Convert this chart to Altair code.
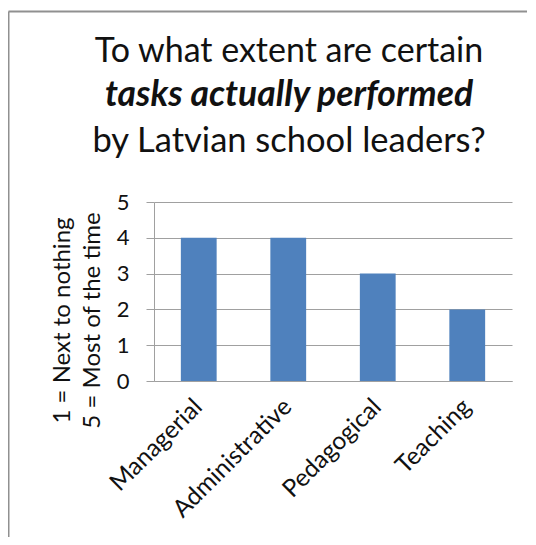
import altair as alt
import pandas as pd

categories = ["Managerial", "Administrative", "Pedagogical", "Teaching"]
values = [4, 4, 3, 2]
title_lines = ["To what extent are certain", "tasks actually performed", "by Latvian school leaders?"]
title_styles = ["normal", "italic", "normal"]
title_weights = ["normal", "bold", "normal"]
title_sizes = [34, 35.5, 34.5]
y_title = ["1 = Next to nothing", "5 = Most of the time"]
y_ticks = [0, 1, 2, 3, 4, 5]

FONT = "Lato"
GRAY = "#a0a0a0"

df = pd.DataFrame({"task": categories, "score": values})

bars = alt.Chart(df).mark_bar(color="#4f81bd").encode(
    x=alt.X("task:N", sort=categories,
            scale=alt.Scale(paddingInner=0.6, paddingOuter=0.3),
            axis=alt.Axis(title=None, labelAngle=-45, labelAlign="right",
                          labelBaseline="middle", labelPadding=22, ticks=False,
                          domainColor=GRAY, labelFontSize=24.5, labelFont=FONT,
                          labelColor="#111", grid=False)),
    y=alt.Y("score:Q", scale=alt.Scale(domain=[0, 5], nice=False),
            axis=alt.Axis(values=y_ticks, title=y_title, titleFontSize=24,
                          titleFont=FONT, titleFontWeight="normal",
                          titleColor="#111", titleLineHeight=30,
                          titleX=-92, titleY=118, titleAngle=-90,
                          titleAlign="center", titleBaseline="middle",
                          labelFontSize=22, labelFont=FONT, labelColor="#111",
                          labelPadding=17, tickSize=8, tickColor=GRAY,
                          domainColor=GRAY, gridColor=GRAY)),
)

tdf = pd.DataFrame({"line": title_lines, "i": [0, 1, 2]})

def title_layer(i, yv):
    return alt.Chart(tdf[tdf.i == i]).mark_text(
        fontSize=title_sizes[i], font=FONT, color="#111", align="center",
        baseline="alphabetic", fontStyle=title_styles[i],
        fontWeight=title_weights[i],
    ).encode(text="line:N", x=alt.value(135), y=alt.value(yv))

frame = pd.DataFrame({"a": [0]})
top_rule = alt.Chart(frame).mark_rule(color="#909090", strokeWidth=2).encode(
    x=alt.value(-145.5), x2=alt.value(373), y=alt.value(-190.5))
left_rule = alt.Chart(frame).mark_rule(color="#909090", strokeWidth=2).encode(
    x=alt.value(-145.5), y=alt.value(-190.5), y2=alt.value(340))

chart = alt.layer(
    top_rule, left_rule, bars, title_layer(0, -140), title_layer(1, -96), title_layer(2, -50)
).properties(
    width=358, height=179,
    autosize=alt.AutoSizeParams(type="none"),
    padding={"left": 146, "top": 194, "right": 16, "bottom": 156},
).configure_view(stroke=None)

chart.save("out.html", embed_options={"renderer": "svg", "actions": False})
